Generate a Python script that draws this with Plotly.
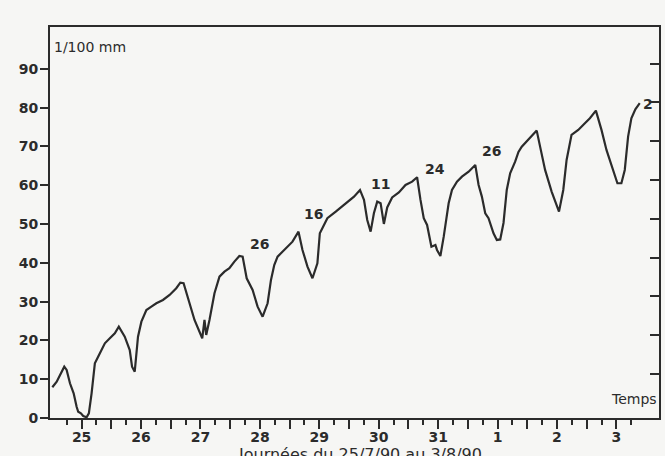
import plotly.graph_objects as go

# Time in days (0 = label "25"), stem variation in 1/100 mm
days = [-0.493, -0.419, -0.292, -0.252, -0.196, -0.158, -0.134, -0.084, -0.057, -0.012,
        0.027, 0.084, 0.122, 0.168, 0.223, 0.278, 0.391, 0.475, 0.559, 0.626,
        0.659, 0.698, 0.726, 0.810, 0.849, 0.894, 0.928, 0.949, 1.006, 1.090,
        1.174, 1.258, 1.369, 1.481, 1.593, 1.661, 1.716, 1.788, 1.900, 2.030,
        2.068, 2.097, 2.152, 2.236, 2.320, 2.404, 2.487, 2.571, 2.655, 2.710,
        2.778, 2.878, 2.962, 3.046, 3.130, 3.187, 3.242, 3.298, 3.438, 3.549,
        3.650, 3.717, 3.801, 3.885, 3.968, 4.009, 4.064, 4.136, 4.277, 4.445,
        4.584, 4.685, 4.752, 4.807, 4.864, 4.919, 4.975, 5.032, 5.087, 5.143,
        5.226, 5.339, 5.451, 5.562, 5.646, 5.703, 5.758, 5.814, 5.887, 5.954,
        5.981, 6.038, 6.094, 6.177, 6.233, 6.317, 6.401, 6.513, 6.625, 6.681,
        6.736, 6.793, 6.848, 6.932, 6.988, 7.045, 7.100, 7.155, 7.212, 7.296,
        7.352, 7.407, 7.519, 7.603, 7.659, 7.716, 7.800, 7.910, 7.977, 8.034,
        8.106, 8.162, 8.245, 8.358, 8.470, 8.554, 8.655, 8.749, 8.833, 8.945,
        9.017, 9.084, 9.141, 9.197, 9.252, 9.319, 9.393]
values = [7.92, 9.36, 13.23, 12.38, 8.95, 7.66, 6.37, 2.91, 1.62, 1.21,
          0.52, 0.18, 1.21, 6.37, 14.1, 15.8, 19.26, 20.55, 21.84, 23.54,
          22.69, 21.4, 20.96, 17.53, 13.23, 11.94, 17.0, 20.96, 24.83, 27.85,
          28.7, 29.58, 30.43, 31.72, 33.45, 34.89, 34.74, 31.28, 25.27, 20.55,
          25.27, 21.4, 25.27, 32.16, 36.44, 37.73, 38.6, 40.31, 41.78, 41.6,
          36.02, 33.01, 28.7, 26.12, 29.58, 35.59, 39.45, 41.6, 43.76, 45.46,
          48.04, 43.32, 39.02, 36.02, 39.89, 47.63, 49.33, 51.5, 53.2, 55.36,
          57.07, 58.79, 56.22, 51.06, 48.04, 52.79, 55.78, 55.36, 50.03, 54.28,
          56.86, 58.15, 60.08, 60.93, 62.07, 56.22, 51.5, 49.77, 44.17, 44.61,
          43.32, 41.78, 46.75, 55.36, 58.79, 60.93, 62.22, 63.51, 65.24, 60.08,
          57.07, 52.79, 51.5, 47.63, 45.9, 46.03, 50.28, 58.79, 63.1, 66.09,
          68.59, 69.96, 71.69, 72.98, 74.09, 69.96, 63.95, 58.36, 55.36, 53.2,
          58.79, 66.53, 72.98, 74.27, 76.0, 77.28, 79.24, 74.27, 69.11, 63.51,
          60.52, 60.52, 63.95, 72.54, 77.28, 79.6, 81.15]

day_ticks = [0, 1, 2, 3, 4, 5, 6, 7, 8, 9]
day_labels = ['25', '26', '27', '28', '29', '30', '31', '1', '2', '3']
y_ticks = [0, 10, 20, 30, 40, 50, 60, 70, 80, 90]

note_text = ['26', '16', '11', '24', '26', '2']
note_day = [2.99, 3.91, 5.03, 5.95, 6.89, 9.54]
note_val = [44.8, 52.5, 60.3, 64.1, 68.9, 80.9]

ink = '#2b2b2b'
bg = '#f6f6f4'
font = 'DejaVu Sans'

major_vals = [i * 0.5 for i in range(0, 19)]
major_text = [day_labels[int(v)] if v == int(v) else '' for v in major_vals]
minor_vals = [-0.25 + i * 0.5 for i in range(0, 20)]

fig = go.Figure()
fig.add_trace(go.Scatter(x=days, y=values, mode='lines',
                         line=dict(color=ink, width=2.2), showlegend=False,
                         hoverinfo='skip'))
# invisible helper trace so the right-hand (inner tick) axis is drawn
fig.add_trace(go.Scatter(x=days[:1], y=values[:1], yaxis='y2', mode='markers',
                         marker=dict(opacity=0), showlegend=False,
                         hoverinfo='skip'))

for t, d, v in zip(note_text, note_day, note_val):
    fig.add_annotation(x=d, y=v, text=t, showarrow=False,
                       font=dict(family=font, size=14, color=ink, weight='bold'))

fig.add_annotation(xref='paper', yref='paper', x=0.004, y=0.949, text='1/100 mm',
                   showarrow=False, xanchor='left', yanchor='middle',
                   font=dict(family=font, size=14, color=ink))
fig.add_annotation(xref='paper', yref='paper', x=1.0, y=0.048, text='Temps',
                   showarrow=False, xanchor='right', yanchor='middle',
                   font=dict(family=font, size=14, color=ink))
fig.add_annotation(xref='paper', yref='paper', x=0.509, y=-0.064,
                   text='Journées du 25/7/90 au 3/8/90',
                   showarrow=False, xanchor='center', yanchor='top',
                   font=dict(family=font, size=16, color=ink))

tickfont = dict(family=font, size=14, color=ink, weight='bold')

fig.update_layout(
    width=665, height=456,
    margin=dict(l=50, r=4, t=27, b=38),
    paper_bgcolor=bg, plot_bgcolor=bg, showlegend=False,
    xaxis=dict(range=[-0.532, 9.717], showgrid=False, zeroline=False,
               showline=True, linecolor=ink, linewidth=2, mirror=True,
               tickmode='array', tickvals=major_vals, ticktext=major_text,
               ticks='outside', ticklen=9, tickwidth=2, tickcolor=ink,
               ticklabelstandoff=-4,
               tickfont=tickfont,
               minor=dict(tickmode='array', tickvals=minor_vals, ticks='outside',
                          ticklen=5, tickwidth=2, tickcolor=ink, showgrid=False)),
    yaxis=dict(range=[0, 100.8], showgrid=False, zeroline=False,
               showline=True, linecolor=ink, linewidth=2, mirror=True,
               tickmode='array', tickvals=y_ticks,
               ticks='outside', ticklen=8, tickwidth=2, tickcolor=ink,
               ticklabelstandoff=-1,
               tickfont=tickfont),
    yaxis2=dict(range=[-1.35, 99.45], overlaying='y', side='right', anchor='x',
                showgrid=False, zeroline=False, showline=False,
                tickmode='array', tickvals=y_ticks[1:], showticklabels=False,
                ticks='inside', ticklen=9, tickwidth=2, tickcolor=ink),
)

fig.write_html('out.html')
